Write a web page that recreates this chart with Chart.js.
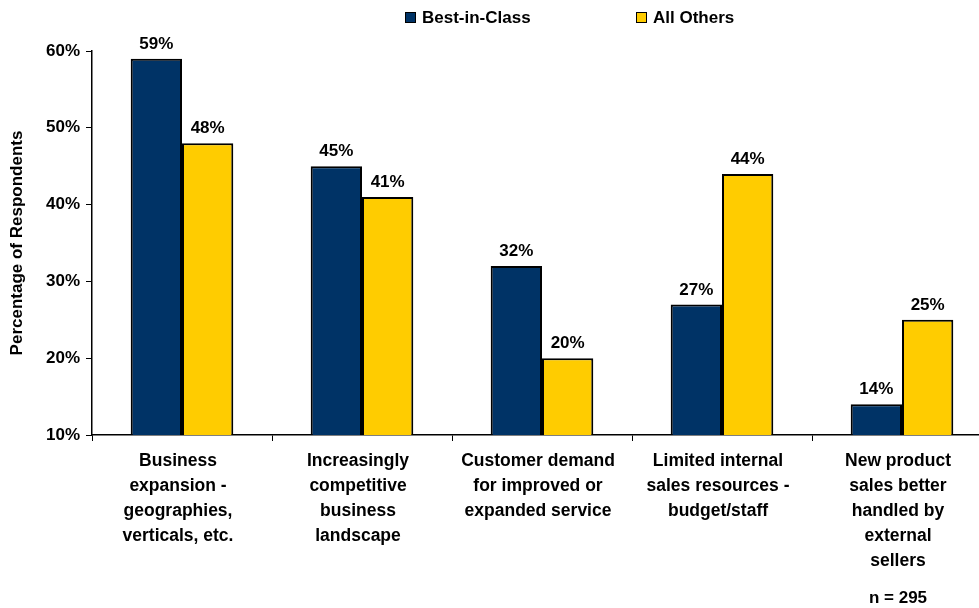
<!DOCTYPE html>
<html>
<head>
<meta charset="utf-8">
<script src="https://cdn.jsdelivr.net/npm/chart.js@4"></script>
<style>
  html, body { margin: 0; padding: 0; background: #fff; overflow: hidden; }
  #wrap { width: 1000px; height: 608px; }
</style>
</head>
<body>
<div id="wrap"><canvas id="chart" width="1000" height="608"></canvas></div>
<script>
// chart data
const categories = [
  ['Business', 'expansion -', 'geographies,', 'verticals, etc.'],
  ['Increasingly', 'competitive', 'business', 'landscape'],
  ['Customer demand', 'for improved or', 'expanded service'],
  ['Limited internal', 'sales resources -', 'budget/staff'],
  ['New product', 'sales better', 'handled by', 'external', 'sellers']
];
const bestInClass = [59, 45, 32, 27, 14];
const allOthers = [48, 41, 20, 44, 25];
const yTicks = [10, 20, 30, 40, 50, 60];
const sampleNote = 'n = 295';

const FONT = '"Liberation Sans", Arial, sans-serif';

// draws the value labels, the legend and the sample size note
const extrasPlugin = {
  id: 'extras',
  afterDatasetsDraw(chart) {
    const ctx = chart.ctx;
    ctx.save();
    ctx.fillStyle = '#000';
    ctx.font = 'bold 17px ' + FONT;
    ctx.textAlign = 'center';
    ctx.textBaseline = 'bottom';
    chart.data.datasets.forEach((ds, i) => {
      chart.getDatasetMeta(i).data.forEach((bar, j) => {
        ctx.fillText(ds.data[j] + '%', bar.x, bar.y - 6);
      });
    });

    // legend
    const items = [
      { x: 405, ds: chart.data.datasets[0] },
      { x: 636, ds: chart.data.datasets[1] }
    ];
    ctx.textAlign = 'left';
    ctx.textBaseline = 'middle';
    items.forEach(it => {
      ctx.fillStyle = it.ds.backgroundColor;
      ctx.fillRect(it.x, 12, 11, 11);
      ctx.strokeStyle = '#000';
      ctx.lineWidth = 1;
      ctx.strokeRect(it.x + 0.5, 12.5, 10, 10);
      ctx.fillStyle = '#000';
      ctx.fillText(it.ds.label, it.x + 17, 18);
    });

    ctx.textAlign = 'center';
    ctx.fillText(sampleNote, 898, 598);
    ctx.restore();
  }
};

new Chart(document.getElementById('chart'), {
  type: 'bar',
  data: {
    labels: categories,
    datasets: [
      {
        label: 'Best-in-Class',
        data: bestInClass,
        backgroundColor: '#003366',
        borderColor: '#000',
        borderWidth: 2,
        borderSkipped: 'bottom'
      },
      {
        label: 'All Others',
        data: allOthers,
        backgroundColor: '#FFCC00',
        borderColor: '#000',
        borderWidth: 2,
        borderSkipped: 'bottom'
      }
    ]
  },
  options: {
    responsive: false,
    animation: false,
    layout: { padding: { top: 51, right: 8, left: 0, bottom: 0 } },
    datasets: {
      bar: { categoryPercentage: 0.57, barPercentage: 1.0 }
    },
    plugins: {
      legend: { display: false },
      tooltip: { enabled: false }
    },
    scales: {
      x: {
        grid: { drawOnChartArea: false, offset: true, tickLength: 6, color: '#000', lineWidth: 1 },
        border: { color: '#000', width: 1.5 },
        ticks: {
          color: '#000',
          font: { family: FONT, size: 17.5, weight: 'bold', lineHeight: 1.43 },
          padding: 8,
          labelOffset: -4,
          maxRotation: 0,
          autoSkip: false
        },
        afterFit(scale) { scale.height = 173; }
      },
      y: {
        min: 10,
        max: 60,
        afterBuildTicks(scale) { scale.ticks = yTicks.map(v => ({ value: v })); },
        grid: { drawOnChartArea: false, tickLength: 6, color: '#000', lineWidth: 1 },
        border: { color: '#000', width: 1.5 },
        ticks: {
          color: '#000',
          font: { family: FONT, size: 17, weight: 'bold' },
          padding: 6,
          callback: v => v + '%'
        },
        title: {
          display: true,
          text: 'Percentage of Respondents',
          color: '#000',
          font: { family: FONT, size: 17, weight: 'bold' },
          padding: { top: 7, bottom: 0 }
        },
        afterFit(scale) { scale.width = 92; }
      }
    }
  },
  plugins: [extrasPlugin]
});
</script>
</body>
</html>
